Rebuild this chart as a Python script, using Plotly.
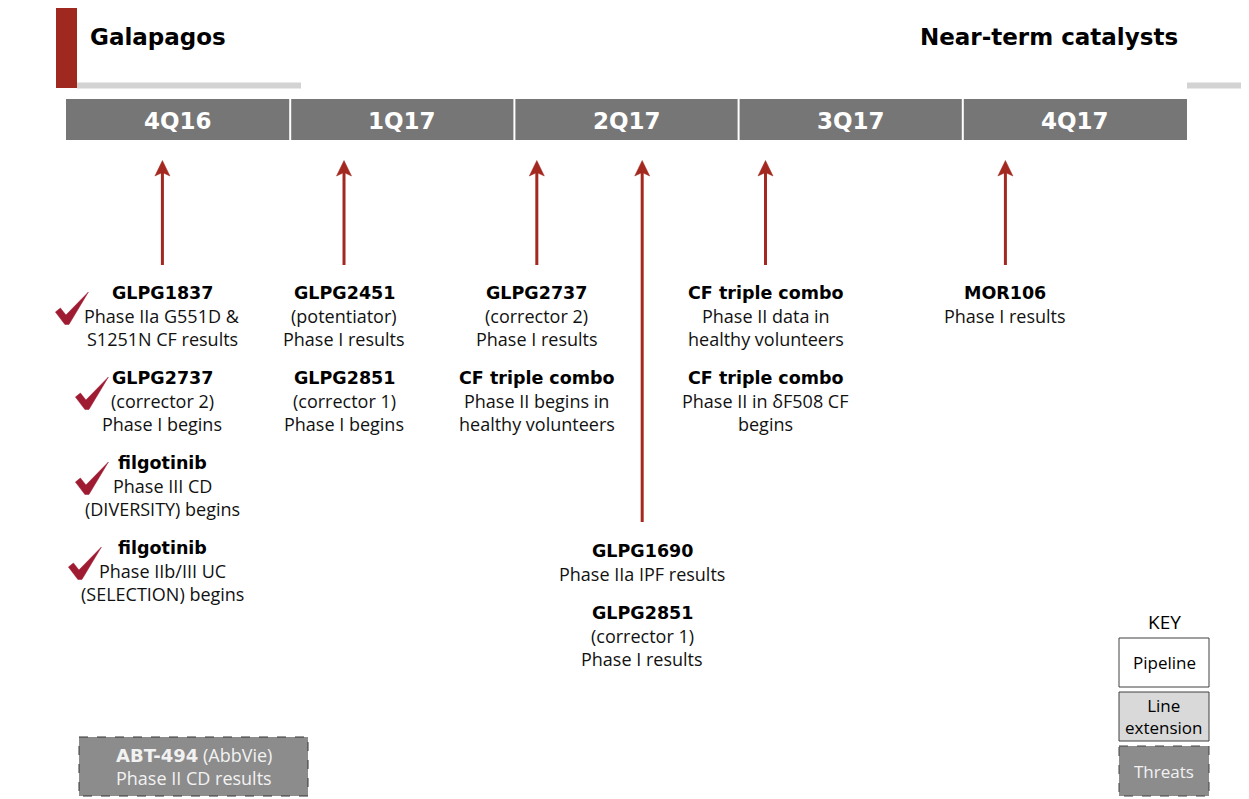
import plotly.graph_objects as go

# ---------------- data ----------------
W, H = 1249, 799
quarters = ["4Q16", "1Q17", "2Q17", "3Q17", "4Q17"]
# timing of each catalyst, in quarters from the start of 4Q16
event_time = [0.43, 1.24, 2.10, 2.57, 3.12, 4.19]
event_titles = [
    ["GLPG1837", "GLPG2737", "filgotinib", "filgotinib"],
    ["GLPG2451", "GLPG2851"],
    ["GLPG2737", "CF triple combo"],
    ["GLPG1690", "GLPG2851"],
    ["CF triple combo", "CF triple combo"],
    ["MOR106"],
]
event_details = [
    [["Phase IIa G551D &", "S1251N CF results"], ["(corrector 2)", "Phase I begins"],
     ["Phase III CD", "(DIVERSITY) begins"], ["Phase IIb/III UC", "(SELECTION) begins"]],
    [["(potentiator)", "Phase I results"], ["(corrector 1)", "Phase I begins"]],
    [["(corrector 2)", "Phase I results"], ["Phase II begins in", "healthy volunteers"]],
    [["Phase IIa IPF results"], ["(corrector 1)", "Phase I results"]],
    [["Phase II data in", "healthy volunteers"], ["Phase II in \u03b4F508 CF", "begins"]],
    [["Phase I results"]],
]
event_done = [
    [True, True, True, True],
    [False, False],
    [False, False],
    [False, False],
    [False, False],
    [False],
]
threat_name = "ABT-494"
threat_company = "(AbbVie)"
threat_detail = "Phase II CD results"
key_labels = ["Pipeline", "Line<br>extension", "Threats"]
header_left = "Galapagos"
header_right = "Near-term catalysts"

# ---------------- layout / style ----------------
PAGE_MARGIN = 8                  # default body margin of the page
BAR_X0, Q_W = 66, 224.2          # pixel start of timeline and width of one quarter
RED = "#a3281f"
CHECK = "#9e1b32"
BAR = "#767676"
BOLD = "DejaVu Sans"
BODY = "Open Sans"

def qx(px):  # pixel x -> quarter units (x axis)
    return (px - BAR_X0) / Q_W

def dq(dpx):
    return dpx / Q_W

fig = go.Figure()
shapes, ann = [], []

# header decorations
shapes.append(dict(type="rect", xref="x", yref="y", x0=qx(56), x1=qx(77), y0=-20, y1=88,
                   fillcolor="#a0291f", line_width=0, layer="above"))
shapes.append(dict(type="rect", xref="x", yref="y", x0=qx(77), x1=qx(301), y0=82.5, y1=88.5,
                   fillcolor="#d3d3d3", line_width=0))
shapes.append(dict(type="rect", xref="x", yref="y", x0=qx(1187), x1=qx(1260), y0=82.5, y1=88.5,
                   fillcolor="#d3d3d3", line_width=0))
ann.append(dict(x=qx(88), y=37, text="<b>%s</b>" % header_left, xanchor="left", yanchor="middle",
                font=dict(family=BOLD, size=23, color="#000")))
ann.append(dict(x=qx(1180), y=37, text="<b>%s</b>" % header_right, xanchor="right", yanchor="middle",
                font=dict(family=BOLD, size=23, color="#000")))

# quarter bar
g = dq(1.0)
for i, q in enumerate(quarters):
    shapes.append(dict(type="rect", xref="x", yref="y", x0=i + (g if i else 0), x1=i + 1 - (g if i < len(quarters) - 1 else 0),
                       y0=99, y1=140, fillcolor=BAR, line_width=0))
    ann.append(dict(x=i + 0.5, y=120.5, text="<b>%s</b>" % q, xanchor="center", yanchor="middle",
                    font=dict(family=BOLD, size=23, color="#ffffff")))

# arrows + text
arrow_bottom = [265, 265, 265, 522, 265, 265]
text_top = [293, 293, 293, 551, 293, 293]
check_dx = [-107, -87, -87, -94]
LINE = 23
GAP = 39
for e, t in enumerate(event_time):
    shapes.append(dict(type="line", xref="x", yref="y", x0=t, x1=t, y0=arrow_bottom[e], y1=172,
                       line=dict(color=RED, width=3)))
    path = "M %f,%f L %f,%f L %f,%f L %f,%f Z" % (
        t, 160.5, t + dq(7.5), 176, t, 172.5, t - dq(7.5), 176)
    shapes.append(dict(type="path", xref="x", yref="y", path=path, fillcolor=RED, line=dict(color=RED, width=0.5)))
    y = text_top[e]
    for b, title in enumerate(event_titles[e]):
        ann.append(dict(x=t, y=y, text="<b>%s</b>" % title, xanchor="center", yanchor="middle",
                        font=dict(family=BOLD, size=17.5, color="#000")))
        if event_done[e][b]:
            L = t + dq(check_dx[b])
            pts = [(0, 19), (5, 15), (10.5, 22), (33, -1), (13.5, 31.5), (9.5, 31.5)]
            p = "M " + " L ".join("%f,%f" % (L + dq(a), y + c) for a, c in pts) + " Z"
            shapes.append(dict(type="path", xref="x", yref="y", path=p, fillcolor=CHECK, line=dict(color=CHECK, width=0.5)))
        yy = y
        for d in event_details[e][b]:
            yy += LINE
            ann.append(dict(x=t, y=yy, text=d, xanchor="center", yanchor="middle",
                            font=dict(family=BODY, size=18, color="#111")))
        y = yy + GAP

# threat box
shapes.append(dict(type="rect", xref="x", yref="y", x0=qx(79), x1=qx(308), y0=737, y1=796,
                   fillcolor="#8c8c8c", line=dict(color="#333333", width=1, dash="dash")))
ann.append(dict(x=qx(193.5), y=755,
                text="<span style='font-family:DejaVu Sans;font-weight:bold'>%s</span> %s" % (threat_name, threat_company),
                xanchor="center", yanchor="middle", font=dict(family=BODY, size=18, color="#f2f2f2")))
ann.append(dict(x=qx(193.5), y=778, text=threat_detail, xanchor="center", yanchor="middle",
                font=dict(family=BODY, size=18, color="#f2f2f2")))

# key
ann.append(dict(x=qx(1164), y=622, text="KEY", xanchor="center", yanchor="middle",
                font=dict(family=BODY, size=19, color="#000")))
key_boxes = [(638, 687, "#ffffff", "solid", "#000"), (692, 741, "#d9d9d9", "solid", "#000"),
             (746, 796, "#8c8c8c", "dash", "#f2f2f2")]
for (y0, y1, fc, dash, tc), lab in zip(key_boxes, key_labels):
    shapes.append(dict(type="rect", xref="x", yref="y", x0=qx(1119), x1=qx(1209), y0=y0, y1=y1,
                       fillcolor=fc, line=dict(color="#404040", width=1, dash=dash)))
    ann.append(dict(x=qx(1164), y=(y0 + y1) / 2, text=lab, xanchor="center", yanchor="middle",
                    font=dict(family=BODY, size=17, color=tc)))

for a in ann:
    a.update(xref="x", yref="y", showarrow=False)

M = PAGE_MARGIN
fig.update_layout(
    width=W - M, height=H - M, margin=dict(l=0, r=0, t=0, b=0),
    paper_bgcolor="white", plot_bgcolor="white",
    xaxis=dict(range=[qx(M), qx(W)], visible=False, fixedrange=True),
    yaxis=dict(range=[H, M], visible=False, fixedrange=True),
    shapes=shapes, annotations=ann, showlegend=False,
)
fig.write_html("out.html")
